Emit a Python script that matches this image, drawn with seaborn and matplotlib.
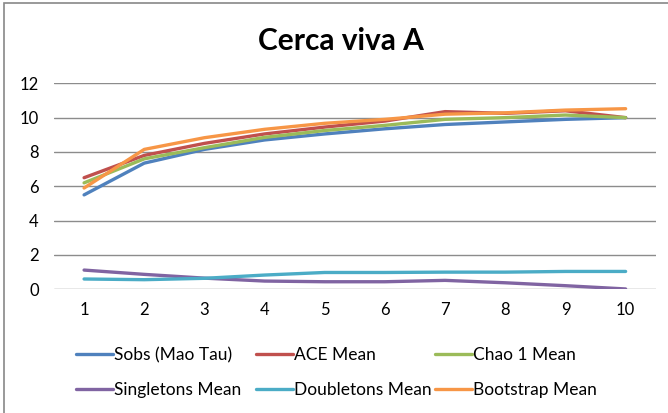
import matplotlib
matplotlib.use("Agg")
import matplotlib.pyplot as plt
import seaborn as sns
import pandas as pd
from matplotlib.patches import Rectangle

# Species accumulation estimates per sample
samples = [1, 2, 3, 4, 5, 6, 7, 8, 9, 10]
sobs = [5.5, 7.35, 8.15, 8.7, 9.05, 9.35, 9.6, 9.75, 9.9, 10.0]
ace = [6.5, 7.8, 8.5, 9.05, 9.45, 9.8, 10.35, 10.25, 10.4, 10.0]
chao1 = [6.2, 7.6, 8.25, 8.85, 9.25, 9.55, 9.9, 10.0, 10.15, 10.0]
singletons = [1.12, 0.87, 0.65, 0.48, 0.44, 0.44, 0.52, 0.38, 0.21, 0.02]
doubletons = [0.6, 0.56, 0.64, 0.83, 0.98, 0.98, 1.0, 1.0, 1.04, 1.04]
bootstrap = [5.9, 8.15, 8.83, 9.32, 9.67, 9.9, 10.2, 10.28, 10.44, 10.52]

series_names = ["Sobs (Mao Tau)", "ACE Mean", "Chao 1 Mean",
                "Singletons Mean", "Doubletons Mean", "Bootstrap Mean"]
series_values = [sobs, ace, chao1, singletons, doubletons, bootstrap]
colors = ["#4F81BD", "#C0504D", "#9BBB59", "#8064A2", "#4BACC6", "#F79646"]

rows = []
for name, vals in zip(series_names, series_values):
    for s, v in zip(samples, vals):
        rows.append({"Sample": s, "Value": v, "Series": name})
df = pd.DataFrame(rows)

sns.set_theme(style="white")
plt.rcParams["font.family"] = ["Lato", "DejaVu Sans"]

W, H = 668, 413
fig = plt.figure(figsize=(W / 100, H / 100), dpi=100)
ax = fig.add_axes([54 / W, 123.7 / H, 601.7 / W, 206 / H])

sns.lineplot(data=df, x="Sample", y="Value", hue="Series",
             hue_order=series_names, palette=colors, linewidth=2.4,
             legend=False, ax=ax, zorder=3)

ax.set_xlim(0.5, 10.5)
ax.set_ylim(0, 12)
ax.set_yticks([0, 2, 4, 6, 8, 10, 12])
ax.set_xticks(samples)
ax.set_xticklabels([str(s) for s in samples])
ax.yaxis.grid(True, color="#8c8c8c", linewidth=1.0)
ax.set_axisbelow(True)
for sp in ax.spines.values():
    sp.set_visible(False)
ax.tick_params(axis="both", length=0, labelsize=12, colors="#000000")
ax.tick_params(axis="x", pad=9)
ax.tick_params(axis="y", pad=11)
ax.set_xlabel("")
ax.set_ylabel("")

fig.text(340.5 / W, 1 - 41 / H, "Cerca viva A", ha="center", va="center",
         fontsize=21.5, fontweight="bold", color="#000000")

# Legend: three columns of two entries each, placed on a fixed grid
handles = [plt.Line2D([], [], color=c, linewidth=2.4) for c in colors]
col_x = [76, 256, 435]
for col in range(3):
    idx = [col, col + 3]
    leg = fig.legend([handles[i] for i in idx], [series_names[i] for i in idx],
                     loc="upper left", bbox_to_anchor=(col_x[col] / W, 1 - 347 / H),
                     frameon=False, fontsize=12.5, handlelength=2.15,
                     handletextpad=0.05, labelspacing=1.08,
                     borderpad=0, borderaxespad=0)
    for t in leg.get_texts():
        t.set_color("#000000")

# Chart area border
fig.patches.append(Rectangle((4 / W, -0.05), 1.2, 1 - 3 / H + 0.05,
                             transform=fig.transFigure, fill=False,
                             edgecolor="#888888", linewidth=1.2))

fig.savefig("out.png", dpi=100)
